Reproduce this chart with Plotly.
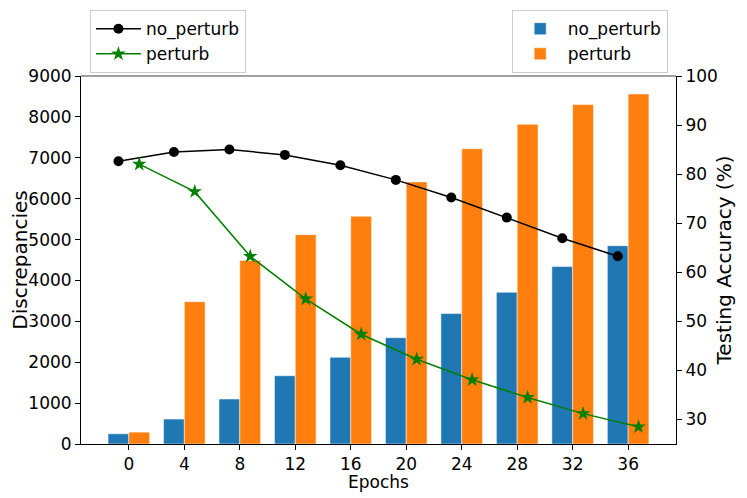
import plotly.graph_objects as go

# values
epochs = [0, 4, 8, 12, 16, 20, 24, 28, 32, 36]
disc_no_perturb = [250, 610, 1100, 1670, 2120, 2600, 3190, 3710, 4340, 4850]
disc_perturb = [290, 3480, 4490, 5120, 5570, 6410, 7220, 7820, 8300, 8560]
acc_no_perturb = [82.6, 84.5, 85.0, 83.9, 81.8, 78.8, 75.2, 71.1, 66.9, 63.2]
acc_perturb = [82.0, 76.4, 63.2, 54.5, 47.3, 42.2, 38.0, 34.4, 31.1, 28.4]

bar_w = 1.5
font = dict(family="DejaVu Sans, sans-serif", size=17, color="black")

fig = go.Figure()

fig.add_trace(go.Bar(x=epochs, y=disc_no_perturb, width=bar_w, offset=-bar_w,
                     name="no_perturb", marker_color="#1f77b4",
                     marker_line=dict(color="rgba(255,255,255,0.5)", width=1),
                     legend="legend2"))
fig.add_trace(go.Bar(x=epochs, y=disc_perturb, width=bar_w, offset=0,
                     name="perturb", marker_color="#ff7f0e",
                     marker_line=dict(color="rgba(255,255,255,0.5)", width=1),
                     legend="legend2"))

fig.add_trace(go.Scatter(x=[e - bar_w / 2 for e in epochs], y=acc_no_perturb,
                         yaxis="y2", mode="lines+markers", name="no_perturb",
                         line=dict(color="black", width=1.5),
                         marker=dict(symbol="circle", size=10, color="black"),
                         legend="legend"))
fig.add_trace(go.Scatter(x=[e + bar_w / 2 for e in epochs], y=acc_perturb,
                         yaxis="y2", mode="lines+markers", name="perturb",
                         line=dict(color="green", width=1.5),
                         marker=dict(symbol="star", size=11, color="green"),
                         legend="legend"))

# page body has an 8px margin, so the figure is a bit smaller than the window
fig.update_layout(
    width=739, height=490,
    margin=dict(l=73, r=71, t=68, b=54, autoexpand=False),
    plot_bgcolor="white", paper_bgcolor="white",
    font=font,
    barmode="overlay",
    xaxis=dict(range=[-3.45, 39.45], tickmode="array", tickvals=epochs,
               ticks="outside", ticklen=5, tickcolor="black",
               showgrid=False, zeroline=False, automargin=False,
               showline=True, linecolor="black", linewidth=1, mirror=False),
    yaxis=dict(range=[0, 9000], tickvals=list(range(0, 9001, 1000)),
               ticks="outside", ticklen=5, tickcolor="black",
               showgrid=False, zeroline=False, automargin=False,
               showline=True, linecolor="black", linewidth=1,
               title=dict(text="Discrepancies", standoff=11)),
    yaxis2=dict(range=[24.9, 100], tickvals=[30, 40, 50, 60, 70, 80, 90, 100],
                overlaying="y", side="right",
                ticks="outside", ticklen=5, tickcolor="black",
                showgrid=False, zeroline=False, automargin=False,
                showline=True, linecolor="black", linewidth=1,
                title=dict(text="Testing Accuracy (%)", standoff=0)),
    legend=dict(x=0.015, y=1.179, xanchor="left", yanchor="top",
                bordercolor="#cccccc", borderwidth=1, bgcolor="white",
                font=font, tracegroupgap=0, itemwidth=45),
    legend2=dict(x=0.986, y=1.179, xanchor="right", yanchor="top",
                 bordercolor="#cccccc", borderwidth=1, bgcolor="white",
                 font=font, tracegroupgap=0, itemwidth=45),
)

# x axis title placed by hand, a bit closer to the tick labels
fig.add_annotation(text="Epochs", xref="paper", yref="paper", x=0.5, y=0,
                   yanchor="middle", yshift=-38, showarrow=False, font=font)

# gray top spine
fig.add_shape(type="line", xref="paper", yref="paper", x0=0, x1=1, y0=1, y1=1,
              line=dict(color="#808080", width=1.5))

fig.write_html("out.html")
